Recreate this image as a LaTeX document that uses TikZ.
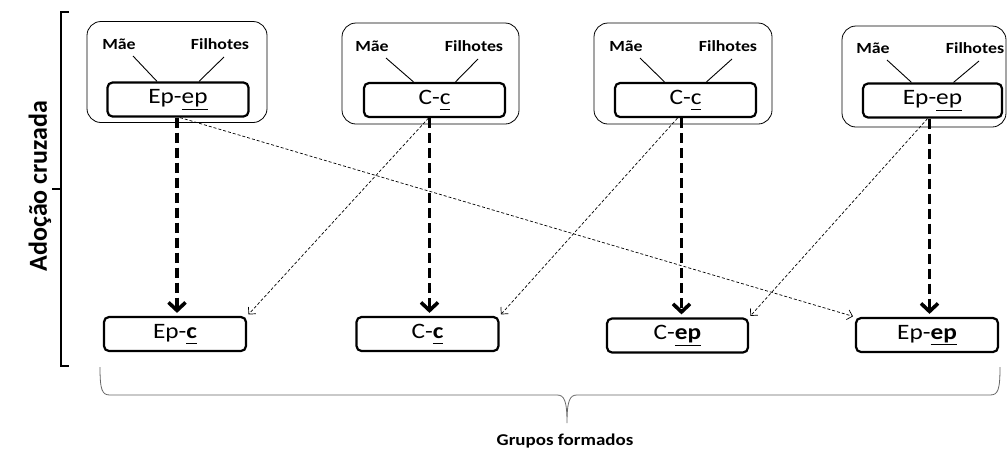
\documentclass[tikz,border=0pt]{standalone}
\usepackage{fontspec}
\setmainfont{Carlito}[FakeStretch=1.15]
\newfontfamily\plainfont{Carlito}
\usetikzlibrary{arrows.meta,calc}
\newcommand{\ulp}[1]{\underline{#1\vphantom{p}}}
\begin{document}
\begin{tikzpicture}[x=1pt,y=-1pt,
  outerbox/.style={draw, rounded corners=14pt, line width=0.8pt, minimum height=101pt},
  innerbox/.style={draw, rounded corners=5pt, line width=2.2pt, minimum width=141pt, minimum height=34pt, inner sep=0pt, font=\fontsize{22}{24}\selectfont},
  lbl/.style={font=\bfseries\fontsize{15.5}{17}\selectfont, inner sep=1pt},
  connline/.style={line width=0.9pt},
  thickarrow/.style={line width=3.6pt, dash pattern=on 10pt off 5pt, -{Straight Barb[length=8pt,width=17pt]}, shorten >=3pt},
  thinarrow/.style={line width=0.7pt, dash pattern=on 3pt off 2pt, -{Straight Barb[length=5pt,width=10pt]}, shorten >=2pt},
  bracket/.style={line width=1.5pt},
  brace/.style={line width=0.8pt, draw=black!60}]
\useasboundingbox (0,0) rectangle (1008,451);

% left bracket
\coordinate (bt) at (69,12);
\coordinate (bb) at (69,366);
\coordinate (bm) at (61,189);
\draw[bracket] (bt) -- (61,12) -- (61,366) -- (bb);
\draw[bracket] (bm) -- (52,189);
\node[rotate=90, font=\plainfont\bfseries\fontsize{26}{28}\selectfont] (adoc) at (40,186) {Adoção cruzada};

% top groups
\node[outerbox, minimum width=180pt] (o1) at (177,72) {};
\node[outerbox, minimum width=177pt] (o2) at (430.5,73.5) {};
\node[outerbox, minimum width=178pt] (o3) at (683,73.5) {};
\node[outerbox, minimum width=164pt] (o4) at (924,76.5) {};

\node[innerbox] (t1) at (178,99.5) {Ep-\ulp{ep}};
\node[innerbox] (t2) at (434.5,100) {C-\ulp{c}};
\node[innerbox] (t3) at (685.5,100) {C-\ulp{c}};
\node[innerbox, minimum width=139pt] (t4) at (932.5,100.5) {Ep-\ulp{ep}};

\node[lbl] (m1) at (119,44) {Mãe};
\node[lbl] (f1) at (220,44) {Filhotes};
\node[lbl] (m2) at (372,46) {Mãe};
\node[lbl] (f2) at (474,46) {Filhotes};
\node[lbl] (m3) at (626,46) {Mãe};
\node[lbl] (f3) at (728,46) {Filhotes};
\node[lbl] (m4) at (873,48) {Mãe};
\node[lbl] (f4) at (975,48) {Filhotes};

\foreach \i in {1,2,3,4}{
  \draw[connline] ($(m\i)+(14,12)$) -- ($(t\i.north)+(-21,0)$);
  \draw[connline] ($(f\i)+(4,13)$) -- ($(t\i.north)+(21,0)$);
}

% bottom groups
\node[innerbox, minimum width=142pt] (b1) at (175,334) {Ep-\ulp{\textbf{c}}};
\node[innerbox, minimum width=142pt] (b2) at (427.5,334) {C-\ulp{\textbf{c}}};
\node[innerbox, minimum width=141pt] (b3) at (677.5,335.5) {C-\ulp{\textbf{ep}}};
\node[innerbox, minimum width=142pt] (b4) at (927,335) {Ep-\ulp{\textbf{ep}}};

% thick vertical arrows
\draw[thickarrow] ([xshift=-1pt]t1.south) -- ([xshift=-1pt]t1.south |- b1.north);
\draw[thickarrow] ([xshift=-5pt]t2.south) -- ([xshift=-5pt]t2.south |- b2.north);
\draw[thickarrow] ([xshift=-4pt]t3.south) -- ([xshift=-4pt]t3.south |- b3.north);
\draw[thickarrow] ([xshift=-3pt]t4.south) -- ([xshift=-3pt]t4.south |- b4.north);

% thin crossing arrows
\draw[thinarrow] ([xshift=2pt]t1.south) -- (b4.north west);
\draw[thinarrow] ([xshift=-6pt]t2.south) -- (b1.north east);
\draw[thinarrow] ([xshift=-8pt]t3.south) -- (b2.north east);
\draw[thinarrow] ([xshift=-5pt]t4.south) -- (b3.north east);

% bottom brace
\coordinate (brl) at (100,367);
\coordinate (brr) at (1000,367);
\coordinate (brm) at (567,423);
\draw[brace] (brl) .. controls (100,390) and (102,395) .. (110,395) -- (557,395)
  .. controls (564,395) and (567,400) .. (brm)
  .. controls (567,400) and (570,395) .. (577,395) -- (990,395)
  .. controls (998,395) and (1000,390) .. (brr);
\node[font=\bfseries\fontsize{16.5}{18}\selectfont] (grupos) at (565,441) {Grupos formados};
\end{tikzpicture}
\end{document}
